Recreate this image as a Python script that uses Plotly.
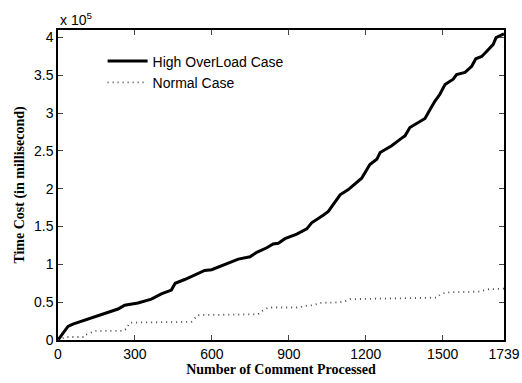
import plotly.graph_objects as go

# Data (time cost in units of 10^5 ms)
high_x = [0, 19, 39, 58, 84, 130, 182, 234, 260, 312, 364, 403, 442, 457, 494, 533, 572, 599,
          658, 703, 749, 775, 814, 839, 859, 885, 931, 970, 989, 1009, 1034, 1054, 1067, 1087,
          1100, 1132, 1165, 1184, 1216, 1243, 1256, 1288, 1301, 1340, 1353, 1372, 1399, 1431,
          1444, 1470, 1489, 1509, 1541, 1554, 1587, 1613, 1629, 1652, 1672, 1697, 1708, 1736, 1739]
high_y = [0, 0.09, 0.18, 0.21, 0.24, 0.30, 0.36, 0.41, 0.46, 0.49, 0.54, 0.61, 0.66, 0.75, 0.80,
          0.86, 0.92, 0.93, 1.01, 1.07, 1.10, 1.16, 1.22, 1.27, 1.28, 1.34, 1.40, 1.47, 1.55, 1.59,
          1.65, 1.70, 1.76, 1.86, 1.92, 1.99, 2.08, 2.14, 2.32, 2.39, 2.48, 2.54, 2.57, 2.67, 2.70,
          2.81, 2.87, 2.93, 3.01, 3.16, 3.25, 3.38, 3.45, 3.51, 3.54, 3.62, 3.72, 3.75, 3.82, 3.91,
          4.00, 4.04, 4.05]

normal_x = [0, 30, 104, 110, 143, 254, 267, 280, 520, 533, 546, 780, 799, 819, 944, 957, 996,
            1022, 1100, 1126, 1139, 1477, 1489, 1515, 1646, 1672, 1739]
normal_y = [0, 0.04, 0.04, 0.07, 0.12, 0.12, 0.15, 0.23, 0.24, 0.29, 0.33, 0.34, 0.39, 0.43,
            0.43, 0.45, 0.46, 0.49, 0.50, 0.52, 0.54, 0.56, 0.60, 0.63, 0.64, 0.67, 0.68]

x_ticks = [0, 300, 600, 900, 1200, 1500, 1739]
y_ticks = [0, 0.5, 1, 1.5, 2, 2.5, 3, 3.5, 4]
y_ticktext = ["0", "0.5", "1", "1.5", "2", "2.5", "3", "3.5", "4"]

fig = go.Figure()
fig.add_trace(go.Scatter(x=high_x, y=high_y, mode="lines", name="High OverLoad Case",
                         line=dict(color="black", width=3)))
fig.add_trace(go.Scatter(x=normal_x, y=normal_y, mode="lines", name="Normal Case",
                         line=dict(color="#444444", width=1.8, dash="1px,4px")))

tick_font = dict(family="Liberation Sans, Arial, sans-serif", size=14, color="black")
title_font = dict(family="Liberation Serif, Times New Roman, serif", size=14, color="black")

fig.update_layout(
    width=522, height=383,
    margin=dict(l=58, r=18, t=30, b=43, autoexpand=False),
    paper_bgcolor="white", plot_bgcolor="white",
    showlegend=True,
    legend=dict(x=0.1, y=0.95, xanchor="left", yanchor="top", bgcolor="rgba(0,0,0,0)",
                font=dict(family="Liberation Sans, Arial, sans-serif", size=14, color="black"),
                tracegroupgap=0, itemwidth=40),
    xaxis=dict(range=[0, 1739], tickvals=x_ticks, ticks="inside", ticklen=5,
               showline=True, linecolor="black", linewidth=1.5, mirror="ticks",
               showgrid=False, zeroline=False, tickfont=tick_font, automargin=False,
               title=dict(text="<b>Number of Comment Processed</b>", font=title_font, standoff=0)),
    yaxis=dict(range=[0, 4.1], tickvals=y_ticks, ticktext=y_ticktext, ticks="inside", ticklen=5,
               showline=True, linecolor="black", linewidth=1.5, mirror="ticks",
               showgrid=False, zeroline=False, tickfont=tick_font, automargin=False,
               title=dict(text="<b>Time Cost (in millisecond)</b>", font=title_font, standoff=6)),
    annotations=[dict(text="x 10<sup>5</sup>", xref="paper", yref="paper", x=0, y=1.0,
                      xanchor="left", yanchor="bottom", showarrow=False,
                      font=dict(family="Liberation Sans, Arial, sans-serif", size=14, color="black"))],
)

fig.write_html("out.html", config={"displayModeBar": False},
               post_script="document.body.style.margin='0';")
